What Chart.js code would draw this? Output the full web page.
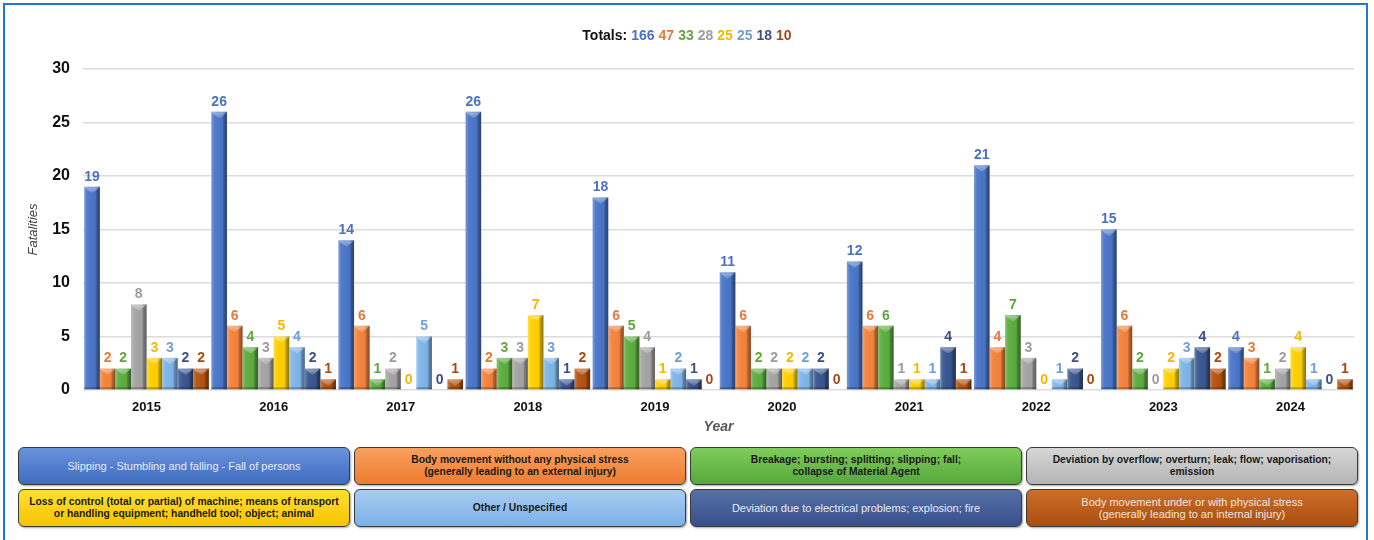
<!DOCTYPE html>
<html>
<head>
<meta charset="utf-8">
<script src="https://cdn.jsdelivr.net/npm/chart.js@4.4.1/dist/chart.umd.min.js"></script>
<style>
    body { margin: 0; background: #fff; font-family: Arial, "Liberation Sans", sans-serif; }
    #frame {
        position: absolute; left: 3px; top: 3px; width: 1361px; height: 545px;
        border: 2px solid #2379c9;
    }
    #chartBox { position: absolute; left: 0; top: 0; width: 1374px; height: 440px; }
    #totals {
        position: absolute; left: 0; top: 27px; width: 1374px; text-align: center;
        font: bold 14px Arial, "Liberation Sans", sans-serif; color: #111;
    }
    #totals span { margin-left: 4px; }
    .legendBox {
        position: absolute; width: 332px; height: 38px; box-sizing: border-box;
        border: 1.5px solid #3a3a3a; border-radius: 6px;
        display: flex; align-items: center; justify-content: center; text-align: center;
        font-family: "Liberation Sans Narrow", Arial, sans-serif; line-height: 12px;
        box-shadow: 1px 1px 2px rgba(0,0,0,0.35);
    }
</style>
</head>
<body>
<div id="frame"></div>
<div id="chartBox"><canvas id="fatalities"></canvas></div>
<div id="totals"></div>
<div id="legend"></div>
<script>
const years = ['2015', '2016', '2017', '2018', '2019', '2020', '2021', '2022', '2023', '2024'];

const slipping      = [19, 26, 14, 26, 18, 11, 12, 21, 15, 4];
const bodyNoStress  = [2, 6, 6, 2, 6, 6, 6, 4, 6, 3];
const breakage      = [2, 4, 1, 3, 5, 2, 6, 7, 2, 1];
const overflow      = [8, 3, 2, 3, 4, 2, 1, 3, 0, 2];
const lossOfControl = [3, 5, 0, 7, 1, 2, 1, 0, 2, 4];
const otherUnspec   = [3, 4, 5, 3, 2, 2, 1, 1, 3, 1];
const electrical    = [2, 2, 0, 1, 1, 2, 4, 2, 4, 0];
const bodyStress    = [2, 1, 1, 2, 0, 0, 1, 0, 2, 1];

const seriesNames = [
    'Slipping - Stumbling and falling - Fall of persons',
    'Body movement without any physical stress<br>(generally leading to an external injury)',
    'Breakage; bursting; splitting; slipping; fall;<br>collapse of Material Agent',
    'Deviation by overflow; overturn; leak; flow; vaporisation;<br>emission',
    'Loss of control (total or partial) of machine; means of transport<br>or handling equipment; handheld tool; object; animal',
    'Other / Unspecified',
    'Deviation due to electrical problems; explosion; fire',
    'Body movement under or with physical stress<br>(generally leading to an internal injury)'
];
const seriesData = [slipping, bodyNoStress, breakage, overflow, lossOfControl, otherUnspec, electrical, bodyStress];

// bar fill, value label colour, legend fill (top, bottom), legend text
const barColors   = ['#4a76c9', '#f5843c', '#5cae40', '#a5a5a5', '#ffd000', '#80b6ea', '#3a5690', '#b5530f'];
const labelColors = ['#4d72bf', '#e47b3a', '#62a540', '#9c9c9c', '#f2b900', '#6f9fd8', '#3c5080', '#a24b16'];
const boxTop      = ['#6a93dc', '#f9a060', '#7fcc5c', '#d6d6d6', '#ffe033', '#a6cdf2', '#5670a8', '#cd6e28'];
const boxBottom   = ['#3f6cc0', '#ee7c30', '#56a83a', '#b4b4b4', '#f6c400', '#7cb1e6', '#37508a', '#aa4e10'];
const boxText     = ['#e6ecf6', '#1a1a1a', '#1a1a1a', '#1a1a1a', '#1a1a1a', '#1a1a1a', '#e6ecf6', '#f2e6dc'];
const boxBold     = [false, true, true, true, true, true, false, false];

// totals line
let totalsHtml = 'Totals:';
seriesData.forEach((arr, i) => {
    const sum = arr.reduce((a, b) => a + b, 0);
    totalsHtml += '<span style="color:' + labelColors[i] + '">' + sum + '</span>';
});
document.getElementById('totals').innerHTML = totalsHtml;

// legend boxes, 4 per row
const legend = document.getElementById('legend');
seriesNames.forEach((name, i) => {
    const box = document.createElement('div');
    box.className = 'legendBox';
    box.style.left = (18 + (i % 4) * 336) + 'px';
    box.style.top = (447 + Math.floor(i / 4) * 42) + 'px';
    box.style.background = 'linear-gradient(' + boxTop[i] + ', ' + boxBottom[i] + ')';
    box.style.color = boxText[i];
    box.style.fontWeight = boxBold[i] ? 'bold' : 'normal';
    box.style.fontSize = boxBold[i] ? '10.3px' : '11px';
    box.innerHTML = name;
    legend.appendChild(box);
});

// shading for the bevelled bar look
const bevelBars = {
    id: 'bevelBars',
    afterDatasetsDraw(chart) {
        const ctx = chart.ctx;
        ctx.save();
        chart.data.datasets.forEach((ds, di) => {
            chart.getDatasetMeta(di).data.forEach((bar) => {
                const w = bar.width;
                const l = bar.x - w / 2, r = bar.x + w / 2;
                const t = bar.y, b = bar.base;
                if (b - t < 1) return;
                const bev = Math.min(w * 0.22, (b - t) / 2);

                const g = ctx.createLinearGradient(l, 0, r, 0);
                g.addColorStop(0, 'rgba(255,255,255,0.28)');
                g.addColorStop(0.18, 'rgba(255,255,255,0.05)');
                g.addColorStop(0.7, 'rgba(0,0,0,0.02)');
                g.addColorStop(0.8, 'rgba(0,0,0,0.25)');
                g.addColorStop(1, 'rgba(0,0,0,0.45)');
                ctx.fillStyle = g;
                ctx.fillRect(l, t, w, b - t);

                // top bevel
                ctx.fillStyle = 'rgba(255,255,255,0.35)';
                ctx.beginPath();
                ctx.moveTo(l, t);
                ctx.lineTo(r, t);
                ctx.lineTo(r - bev, t + bev);
                ctx.lineTo(l + bev, t + bev);
                ctx.closePath();
                ctx.fill();
                ctx.fillStyle = 'rgba(255,255,255,0.25)';
                ctx.beginPath();
                ctx.moveTo(l + bev, t + bev);
                ctx.lineTo(r - bev, t + bev);
                ctx.lineTo(bar.x, t + bev * 1.8);
                ctx.closePath();
                ctx.fill();

                // bottom edge
                ctx.fillStyle = 'rgba(0,0,0,0.25)';
                ctx.fillRect(l, b - 2, w, 2);
            });
        });
        ctx.restore();
    }
};

// value above every bar
const barValues = {
    id: 'barValues',
    afterDatasetsDraw(chart) {
        const ctx = chart.ctx;
        ctx.save();
        ctx.font = 'bold 14px Arial, "Liberation Sans", sans-serif';
        ctx.textAlign = 'center';
        ctx.textBaseline = 'bottom';
        chart.data.datasets.forEach((ds, di) => {
            ctx.fillStyle = labelColors[di];
            chart.getDatasetMeta(di).data.forEach((bar, i) => {
                ctx.fillText(ds.data[i], bar.x, bar.y - 3);
            });
        });
        ctx.restore();
    }
};

const chartContainer = document.getElementById('fatalities').getContext('2d');
const fatalitiesChart = new Chart(chartContainer, {
    type: 'bar',
    data: {
        labels: years,
        datasets: seriesData.map((arr, i) => ({
            label: seriesNames[i].replace('<br>', ' '),
            data: arr,
            backgroundColor: barColors[i],
            borderWidth: 0,
            barPercentage: 1,
            categoryPercentage: 0.98
        }))
    },
    options: {
        responsive: true,
        maintainAspectRatio: false,
        animation: false,
        layout: {
            padding: { left: 8, right: 20, top: 69, bottom: 0 }
        },
        plugins: {
            legend: { display: false },
            title: { display: false },
            tooltip: { enabled: false }
        },
        scales: {
            x: {
                grid: { display: false, drawTicks: false },
                border: { display: false },
                ticks: {
                    color: '#111',
                    padding: 10,
                    font: { family: 'Arial', size: 13, weight: 'bold' }
                },
                title: {
                    display: true,
                    text: 'Year',
                    color: '#595959',
                    padding: { top: 0, bottom: 4 },
                    font: { family: 'Arial', size: 14, weight: 'bold', style: 'italic' }
                },
                afterFit(scale) { scale.height = 50; }
            },
            y: {
                min: 0,
                max: 30,
                ticks: {
                    stepSize: 5,
                    color: '#111',
                    padding: 13,
                    font: { family: 'Arial', size: 16, weight: 'bold' }
                },
                grid: { color: '#dcdcdc', lineWidth: 1.5, drawTicks: false },
                border: { display: false },
                title: {
                    display: true,
                    text: 'Fatalities',
                    color: '#404040',
                    padding: { top: 18, bottom: 0 },
                    font: { family: 'Arial', size: 13, style: 'italic' }
                },
                afterFit(scale) { scale.width = 75; }
            }
        }
    },
    plugins: [bevelBars, barValues]
});
</script>
</body>
</html>
